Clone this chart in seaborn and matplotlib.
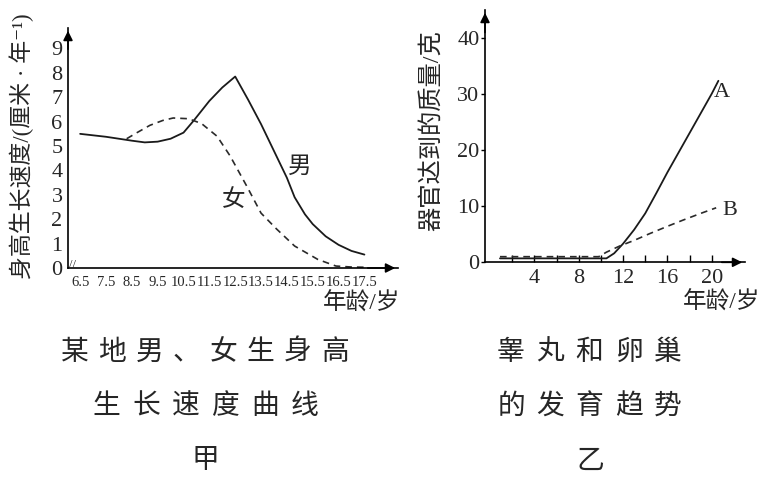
import matplotlib
matplotlib.use("Agg")
import matplotlib.pyplot as plt
import seaborn as sns
import pandas as pd

sns.set_theme(style="white")
plt.rcParams['font.family'] = ['Liberation Serif', 'Noto Sans CJK SC', 'DejaVu Sans']

# 甲: height growth speed (cm / year) by age
boy_age = [6.5, 7.5, 8.0, 8.5, 9.0, 9.5, 10.0, 10.5, 10.9, 11.5, 12.0, 12.5,
           13.0, 13.5, 14.0, 14.5, 14.8, 15.2, 15.5, 16.0, 16.5, 17.0, 17.5]
boy_speed = [5.5, 5.38, 5.3, 5.22, 5.15, 5.18, 5.3, 5.55, 6.05, 6.85, 7.4, 7.85,
             6.9, 5.9, 4.8, 3.7, 2.9, 2.2, 1.8, 1.3, 0.95, 0.7, 0.55]
girl_age = [8.3, 8.7, 9.2, 9.7, 10.1, 10.7, 11.2, 11.8, 12.3, 12.95, 13.5,
            14.1, 14.8, 15.7, 16.4, 17.0, 17.5]
girl_speed = [5.3, 5.55, 5.85, 6.05, 6.15, 6.12, 5.92, 5.4, 4.6, 3.35, 2.25,
              1.6, 0.9, 0.35, 0.08, 0.04, 0.03]
age_ticks = [6.5, 7.5, 8.5, 9.5, 10.5, 11.5, 12.5, 13.5, 14.5, 15.5, 16.5, 17.5]
speed_ticks = list(range(10))

# 乙: organ mass (g) by age
a_age = [0.9, 10.5, 11.2, 12.0, 13.0, 14.0, 15.0, 16.0, 17.0, 18.0, 19.0, 20.0, 20.6]
a_mass = [0.7, 0.7, 1.6, 3.3, 5.8, 8.7, 12.3, 16.0, 19.5, 23.0, 26.5, 30.0, 32.3]
b_age = [0.9, 9.8, 10.5, 11.7, 13.0, 14.4, 16.0, 17.4, 19.0, 20.4]
b_mass = [1.0, 1.0, 1.8, 2.9, 3.9, 5.1, 6.4, 7.5, 8.7, 9.7]
mass_ticks = [0, 10, 20, 30, 40]
organ_age_ticks = [4, 8, 12, 16, 20]

boys = pd.DataFrame({'age': boy_age, 'speed': boy_speed})
girls = pd.DataFrame({'age': girl_age, 'speed': girl_speed})
a_df = pd.DataFrame({'age': a_age, 'mass': a_mass})
b_df = pd.DataFrame({'age': b_age, 'mass': b_mass})

W, H = 768, 483
fig = plt.figure(figsize=(W / 100, H / 100), dpi=100)
ax1 = fig.add_axes([68 / W, 1 - 268 / H, 330 / W, 240 / H])
ax2 = fig.add_axes([485 / W, 1 - 262.3 / H, 260 / W, 252.3 / H])

def style_axis(ax):
    for s in ['top', 'right']:
        ax.spines[s].set_visible(False)
    for s in ['left', 'bottom']:
        ax.spines[s].set_color('black')
        ax.spines[s].set_linewidth(1.2)
    ax.annotate('', xy=(0, 1.0), xytext=(0, 0.9), xycoords='axes fraction',
                arrowprops=dict(arrowstyle='-|>', color='black', lw=1.2,
                                mutation_scale=14))
    ax.annotate('', xy=(1.0, 0), xytext=(0.9, 0), xycoords='axes fraction',
                arrowprops=dict(arrowstyle='-|>', color='black', lw=1.2,
                                mutation_scale=14))
    ax.set_xlabel('')
    ax.set_ylabel('')

def fig_text(x, y, s, **kw):
    fig.text(x / W, 1 - y / H, s, **kw)

def spaced(chars, x0, x1, y, size):
    # captions in the reference are set with wide letter spacing
    step = (x1 - x0) / (len(chars) - 1)
    for i, c in enumerate(chars):
        fig_text(x0 + i * step, y, c, fontsize=size, ha='center', va='center')

# chart 甲
sns.lineplot(x='age', y='speed', data=boys, ax=ax1, color='#1a1a1a', lw=1.3, sort=False)
sns.lineplot(x='age', y='speed', data=girls, ax=ax1, color='#2a2a2a', lw=1.2,
             sort=False, linestyle=(0, (4, 3)))
ax1.set_xlim(6.03, 18.8)
ax1.set_ylim(0, 9.84)
style_axis(ax1)
ax1.set_xticks(age_ticks)
ax1.set_xticklabels([str(t) for t in age_ticks], fontsize=10.5)
ax1.set_yticks(speed_ticks)
ax1.set_yticklabels([str(t) for t in speed_ticks], fontsize=16)
ax1.tick_params(axis='x', direction='in', length=5, width=1, pad=6, color='black')
ax1.tick_params(axis='y', direction='out', length=3, width=1, pad=1, color='black')
ax1.text(0.004, 0.012, '//', transform=ax1.transAxes, fontsize=9, ha='left', va='center')
fig_text(22, 146, '身高生长速度/(厘米 · 年⁻¹)', rotation=90, fontsize=16.5,
         ha='center', va='center')
fig_text(400, 303, '年龄/岁', fontsize=17, ha='right', va='center')
ax1.text(14.99, 4.14, '男', fontsize=17, ha='center', va='center')
ax1.text(12.43, 2.79, '女', fontsize=17, ha='center', va='center')

# chart 乙
sns.lineplot(x='age', y='mass', data=a_df, ax=ax2, color='#1a1a1a', lw=1.3, sort=False)
sns.lineplot(x='age', y='mass', data=b_df, ax=ax2, color='#2a2a2a', lw=1.2,
             sort=False, linestyle=(0, (4, 3)))
ax2.set_xlim(-0.45, 23)
ax2.set_ylim(0, 44.9)
style_axis(ax2)
ax2.set_xticks(organ_age_ticks)
ax2.set_xticklabels([str(t) for t in organ_age_ticks], fontsize=16)
ax2.set_xticks([2, 6, 10, 14, 18], minor=True)
ax2.set_yticks(mass_ticks)
ax2.set_yticklabels([str(t) for t in mass_ticks], fontsize=16)
ax2.tick_params(axis='x', which='both', direction='in', length=5, width=1, pad=5,
                bottom=True, color='black')
ax2.tick_params(axis='y', direction='out', length=3, width=1, pad=1, left=True, color='black')
fig_text(432, 131, '器官达到的质量/克', rotation=90, fontsize=17.5, ha='center', va='center')
fig_text(760, 302, '年龄/岁', fontsize=17, ha='right', va='center')
ax2.text(20.9, 30.3, 'A', fontsize=16, ha='center', va='center')
ax2.text(21.6, 9.3, 'B', fontsize=16, ha='center', va='center')

# captions
spaced('某地男、女生身高', 75, 335, 353, 20)
spaced('生长速度曲线', 106, 305, 407, 20)
fig_text(205, 462, '甲', fontsize=20, ha='center', va='center')
spaced('睾丸和卵巢', 511, 668, 353, 20)
spaced('的发育趋势', 511, 668, 407, 20)
fig_text(590, 462, '乙', fontsize=20, ha='center', va='center')

fig.savefig('out.png', dpi=100, facecolor='white')
